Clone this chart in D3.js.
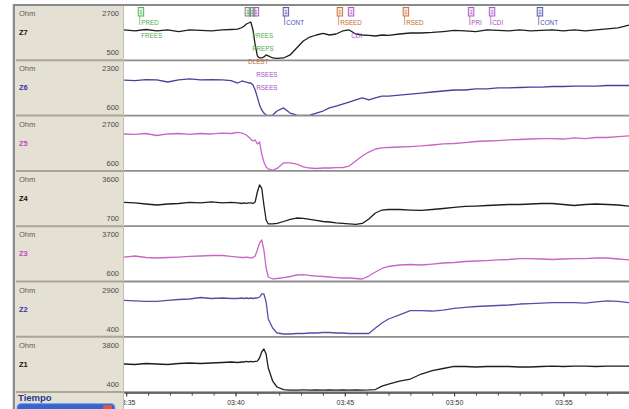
<!DOCTYPE html>
<html>
<head>
<meta charset="utf-8">
<script src="https://cdn.jsdelivr.net/npm/d3@7"></script>
<style>
  body { margin: 0; background: #fff; }
  svg { display: block; font-family: "Liberation Sans", Arial, sans-serif; }
</style>
</head>
<body>
<svg id="chart" width="629" height="409"></svg>
<script>
/* sample times, minutes after 03:35 */
const minutes = [-0.1, 0.4, 0.9, 1.4, 1.9, 2.4, 2.9, 3.4, 3.9, 4.4,
  4.8, 5.1, 5.3, 5.4, 5.5, 5.6, 5.7, 5.8, 5.9, 6.0,
  6.1, 6.2, 6.3, 6.4, 6.5, 6.7, 6.9, 7.2, 7.5, 7.8,
  8.1, 8.4, 8.7, 9.0, 9.3, 9.6, 9.9, 10.2, 10.5, 10.8,
  11.1, 11.4, 11.7, 12.0, 12.5, 13.0, 13.5, 14.0, 14.5, 15.0,
  15.5, 16.0, 16.5, 17.0, 17.5, 18.0, 18.5, 19.0, 19.5, 20.0,
  20.5, 21.0, 21.5, 22.0, 22.5, 23.0];

/* impedance, Ohm */
const z7 = [1720, 1675, 1740, 1675, 1720, 1650, 1720, 1700, 1675, 1720,
  1740, 1760, 1830, 1900, 1985, 2030, 2075, 1720, 1050, 560,
  470, 470, 515, 605, 560, 470, 450, 470, 605, 915,
  1230, 1405, 1495, 1565, 1495, 1540, 1675, 1720, 1540, 1495,
  1475, 1450, 1495, 1475, 1540, 1585, 1585, 1610, 1650, 1700,
  1675, 1650, 1720, 1700, 1675, 1720, 1675, 1700, 1720, 1675,
  1720, 1675, 1720, 1765, 1810, 1940];
const z6 = [1720, 1705, 1740, 1725, 1655, 1725, 1760, 1725, 1740, 1725,
  1705, 1620, 1690, 1670, 1655, 1620, 1620, 1550, 1380, 1135,
  860, 690, 585, 515, 500, 515, 655, 760, 585, 515,
  500, 515, 585, 655, 760, 825, 895, 965, 1035, 1105,
  1035, 1105, 1170, 1170, 1205, 1240, 1275, 1310, 1345, 1380,
  1380, 1415, 1415, 1450, 1450, 1465, 1480, 1480, 1500, 1500,
  1515, 1515, 1515, 1535, 1535, 1535];
const z5 = [2045, 2025, 2065, 1980, 2045, 2065, 2025, 2065, 2045, 2085,
  2065, 2110, 2085, 2045, 2000, 1915, 1830, 1745, 1790, 1620,
  1705, 1190, 850, 640, 555, 510, 575, 810, 810, 765,
  640, 595, 575, 595, 595, 615, 615, 680, 895, 1105,
  1275, 1405, 1450, 1470, 1490, 1510, 1535, 1575, 1620, 1640,
  1680, 1725, 1745, 1765, 1790, 1810, 1830, 1850, 1850, 1830,
  1875, 1850, 1895, 1895, 1935, 1960];
const z4 = [1920, 1890, 1830, 1770, 1830, 1860, 1920, 1890, 1950, 1890,
  1920, 1890, 1860, 1890, 1860, 1890, 1890, 1860, 1950, 2535,
  2950, 2770, 1770, 890, 655, 655, 685, 800, 920, 1005,
  980, 920, 860, 800, 770, 715, 685, 655, 625, 685,
  950, 1300, 1475, 1505, 1505, 1475, 1450, 1505, 1565, 1625,
  1685, 1710, 1740, 1770, 1800, 1800, 1830, 1860, 1860, 1800,
  1740, 1800, 1830, 1800, 1770, 1710];
const z3 = [1950, 2015, 1920, 1890, 1920, 1950, 1985, 2015, 2045, 2045,
  1985, 1950, 1920, 1920, 1950, 1920, 1890, 1920, 2015, 2390,
  2830, 3025, 2390, 1260, 695, 570, 600, 660, 725, 820,
  850, 790, 755, 725, 695, 660, 630, 630, 600, 570,
  755, 1010, 1230, 1355, 1450, 1480, 1450, 1510, 1575, 1605,
  1670, 1700, 1730, 1765, 1795, 1855, 1855, 1825, 1795, 1825,
  1855, 1855, 1890, 1890, 1825, 1765];
const z2 = [2090, 2065, 2040, 2040, 2090, 2140, 2165, 2240, 2190, 2215,
  2190, 2190, 2215, 2190, 2215, 2190, 2215, 2190, 2215, 2215,
  2265, 2420, 2420, 2015, 1150, 695, 440, 390, 390, 415,
  415, 440, 440, 465, 465, 440, 440, 415, 415, 415,
  415, 695, 950, 1150, 1355, 1580, 1580, 1555, 1605, 1685,
  1735, 1785, 1810, 1835, 1860, 1910, 1935, 1960, 1985, 1985,
  1985, 1960, 2015, 2065, 2040, 1985];
const z1 = [2130, 2095, 2165, 2130, 2095, 2165, 2200, 2165, 2200, 2235,
  2270, 2235, 2270, 2270, 2305, 2270, 2305, 2270, 2305, 2335,
  2545, 2960, 3165, 2820, 1855, 955, 545, 370, 335, 335,
  340, 335, 345, 335, 340, 330, 340, 335, 345, 335,
  340, 370, 610, 750, 955, 1095, 1440, 1680, 1820, 1960,
  1960, 1925, 1960, 1960, 1960, 1925, 1925, 1960, 1990, 1960,
  1990, 1990, 1960, 1990, 1990, 1990];

const seriesNames = ["Z7", "Z6", "Z5", "Z4", "Z3", "Z2", "Z1"];
const seriesValues = [z7, z6, z5, z4, z3, z2, z1];
const scaleMax = [2700, 2300, 2700, 3600, 3700, 2900, 3800];
const scaleMin = [500, 600, 600, 700, 600, 400, 400];
const seriesColors = ["#1e1e1e", "#4a3f9e", "#c766c4", "#1e1e1e", "#c766c4", "#5450a6", "#1e1e1e"];
const nameColors = ["#111111", "#3a34a8", "#c24ac0", "#111111", "#c24ac0", "#3a34a8", "#111111"];

const timeTicks = ["03:35", "03:40", "03:45", "03:50", "03:55"];

/* event marks on the top track */
const eventMinutes = [0.55, 5.44, 5.63, 5.81, 7.18, 9.65, 10.16, 12.67, 15.65, 16.61, 18.8];
const eventKinds = ["green", "gray", "green", "purple", "blue", "orange", "purple", "orange", "purple", "purple", "blue"];
const noteEvent = [0, 0, 2, 2, 1, 3, 3, 4, 5, 6, 7, 8, 9, 10];
const noteText = ["PRED", "FREES", "FREES", "PREPS", "DLEST", "RSEES", "RSEES", "CONT", "RSEED", "CDI", "RSED", "PRI", "CDI", "CONT"];
const noteKinds = ["green", "green", "green", "green", "orange", "purple", "purple", "blue", "orange", "purple", "orange", "purple", "purple", "blue"];
const noteRow = [0, 1, 1, 2, 3, 4, 5, 0, 0, 1, 0, 0, 0, 0];

const kindColor = {
  green: "#4fae4f", gray: "#7b7b7b", purple: "#a64fbf", blue: "#4d4fae", orange: "#c8692c"
};

/*--------------------------------------------------------------------------*/

const W = 629, H = 409,
  top0 = 5, panelH = 55.3,
  labelX0 = 16, plotX0 = 124, plotX1 = W,
  axisY = top0 + panelH * 7;

const parseHM = d3.timeParse("%H:%M"),
  t0 = parseHM("03:35"),
  toDate = m => new Date(t0.getTime() + m * 60000);

const svg = d3.select("#chart");

let x = d3.scaleTime()
  .domain([toDate(-0.1), toDate(23.0)])
  .range([plotX0, plotX1]);

// backgrounds
svg.append("rect").attr("width", W).attr("height", H).attr("fill", "#fff");
svg.append("rect")
  .attr("x", labelX0).attr("y", top0)
  .attr("width", plotX0 - labelX0).attr("height", H - top0)
  .attr("fill", "#e4e0d3");

let defs = svg.append("defs");
defs.append("clipPath").attr("id", "axis-clip")
  .append("rect")
  .attr("x", plotX0).attr("y", axisY - 2)
  .attr("width", plotX1 - plotX0).attr("height", H - axisY + 2);

/** one strip per impedance channel */
seriesNames.forEach(function (name, i) {
  let py = top0 + i * panelH,
    y = d3.scaleLinear()
      .domain([scaleMin[i], scaleMax[i]])
      .range([py + panelH - 3, py + 3]);

  defs.append("clipPath").attr("id", "clip-" + name)
    .append("rect")
    .attr("x", plotX0).attr("y", py + 1)
    .attr("width", plotX1 - plotX0).attr("height", panelH - 1);

  let g = svg.append("g").attr("class", "strip " + name);

  // label side
  g.append("text").attr("x", 19).attr("y", py + 11)
    .attr("font-size", 7.5).attr("fill", "#5a5a5a").text("Ohm");
  g.append("text").attr("x", 119).attr("y", py + 11)
    .attr("text-anchor", "end").attr("font-size", 7.5).attr("fill", "#4a4a4a")
    .text(scaleMax[i]);
  g.append("text").attr("x", 19).attr("y", py + 30)
    .attr("font-size", 7.5).attr("font-weight", "bold").attr("fill", nameColors[i])
    .text(name);
  g.append("text").attr("x", 119).attr("y", py + 50)
    .attr("text-anchor", "end").attr("font-size", 7.5).attr("fill", "#4a4a4a")
    .text(scaleMin[i]);

  let line = d3.line()
    .x((d, k) => x(toDate(minutes[k])))
    .y(d => y(d));

  g.append("path")
    .datum(seriesValues[i])
    .attr("clip-path", "url(#clip-" + name + ")")
    .attr("fill", "none")
    .attr("stroke", seriesColors[i])
    .attr("stroke-width", 1.3)
    .attr("stroke-linejoin", "round")
    .attr("d", line);
});

// strip separators
d3.range(1, 8).forEach(function (i) {
  let sy = top0 + i * panelH;
  svg.append("line")
    .attr("x1", labelX0).attr("x2", plotX0).attr("y1", sy).attr("y2", sy)
    .attr("stroke", "#aaa597").attr("stroke-width", 2);
  svg.append("line")
    .attr("x1", plotX0).attr("x2", plotX1).attr("y1", sy).attr("y2", sy)
    .attr("stroke", "#8e8e8e").attr("stroke-width", 1.8);
});
svg.append("line")
  .attr("x1", plotX0 - 0.5).attr("x2", plotX0 - 0.5).attr("y1", top0).attr("y2", H)
  .attr("stroke", "#c2bcad").attr("stroke-width", 1);

// outer frame
svg.append("line").attr("x1", 13).attr("x2", W).attr("y1", top0).attr("y2", top0)
  .attr("stroke", "#8a8a8a").attr("stroke-width", 2);
svg.append("line").attr("x1", 14).attr("x2", 14).attr("y1", top0 - 1).attr("y2", H)
  .attr("stroke", "#8a8a8a").attr("stroke-width", 2.5);

// event markers (top strip)
let ev = svg.append("g").attr("class", "events");
eventMinutes.forEach(function (m, k) {
  let ex = x(toDate(m)), c = kindColor[eventKinds[k]];
  ev.append("rect")
    .attr("x", ex).attr("y", 7.5).attr("width", 5.5).attr("height", 8.5)
    .attr("fill", c).attr("fill-opacity", 0.18)
    .attr("stroke", c).attr("stroke-width", 0.9);
  ev.append("text")
    .attr("x", ex + 2.75).attr("y", 14).attr("text-anchor", "middle")
    .attr("font-size", 5).attr("fill", c).text("1");
});
noteText.forEach(function (t, k) {
  let ex = x(toDate(eventMinutes[noteEvent[k]])),
    c = kindColor[noteKinds[k]],
    ny = 25 + 13 * noteRow[k];
  if (noteRow[k] === 0)
    ev.append("line")
      .attr("x1", ex + 1.5).attr("x2", ex + 1.5).attr("y1", 16).attr("y2", ny)
      .attr("stroke", c).attr("stroke-width", 0.7);
  ev.append("text")
    .attr("x", ex + 3).attr("y", ny)
    .attr("font-size", 6.3).attr("fill", c)
    .text(t);
});

// time axis
let gAxis = svg.append("g").attr("clip-path", "url(#axis-clip)");
let minor = gAxis.append("g")
  .attr("transform", "translate(0," + (axisY + 0.5) + ")")
  .call(d3.axisBottom(x).ticks(d3.timeMinute.every(1)).tickFormat("").tickSize(3).tickSizeOuter(0));
let major = gAxis.append("g")
  .attr("transform", "translate(0," + (axisY + 0.5) + ")")
  .call(d3.axisBottom(x)
    .tickValues(timeTicks.map(parseHM))
    .tickFormat(d3.timeFormat("%H:%M"))
    .tickSize(4).tickSizeOuter(0).tickPadding(3));
gAxis.selectAll(".domain").attr("stroke", "#555");
gAxis.selectAll(".tick line").attr("stroke", "#444");
major.selectAll("text").attr("font-size", 7).attr("fill", "#333").attr("font-family", "Liberation Sans, Arial, sans-serif");

// Tiempo label + button
svg.append("text").attr("x", 18).attr("y", axisY + 9)
  .attr("font-size", 9.5).attr("font-weight", "bold").attr("fill", "#1f3a8f")
  .text("Tiempo");
svg.append("rect")
  .attr("x", 17).attr("y", axisY + 11.5).attr("width", 98).attr("height", 14).attr("rx", 4)
  .attr("fill", "#3566cf").attr("stroke", "#7fa2e6").attr("stroke-width", 1);
svg.append("rect")
  .attr("x", 103).attr("y", axisY + 13).attr("width", 9).attr("height", 10).attr("rx", 2)
  .attr("fill", "#d9564a");
</script>
</body>
</html>
